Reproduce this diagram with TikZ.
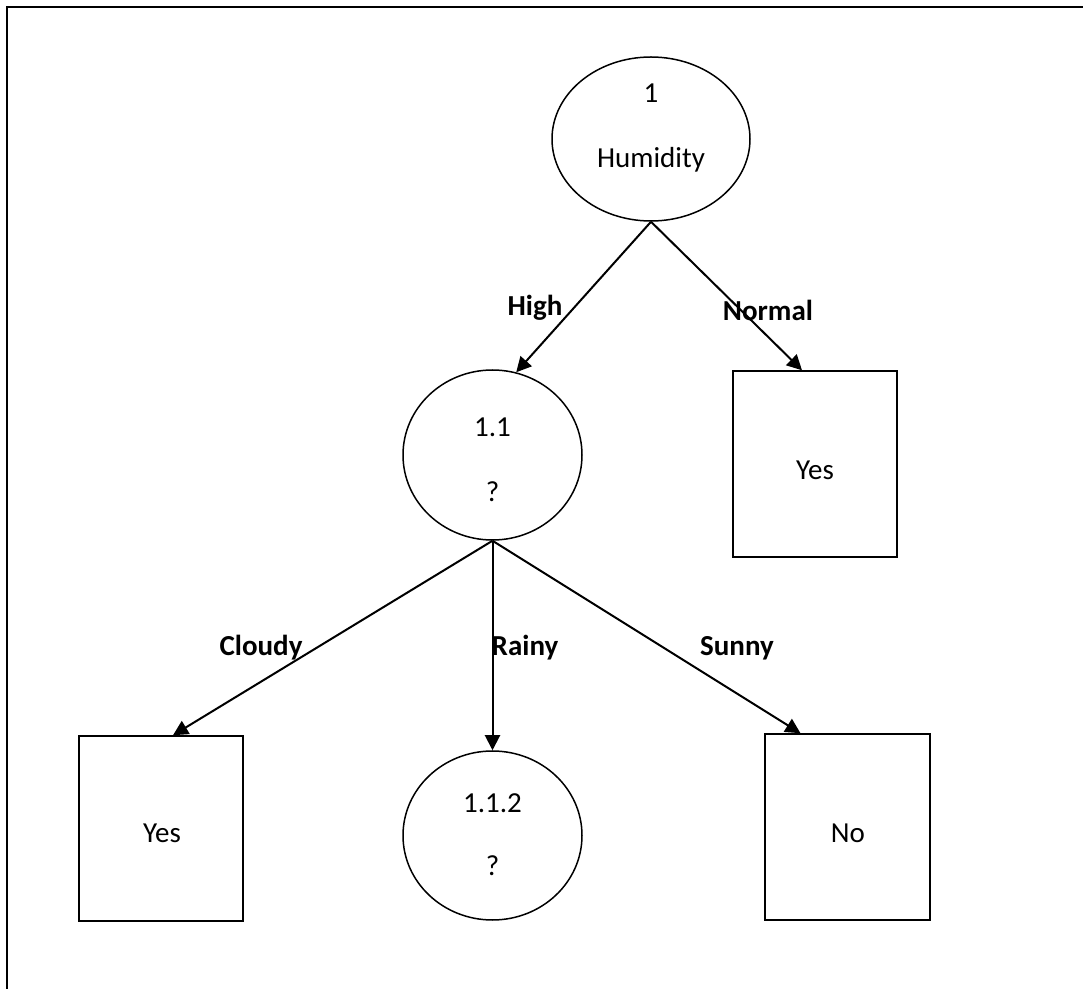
\documentclass[tikz,border=0pt]{standalone}
\usepackage{fontspec}
\setmainfont{Carlito}
\usetikzlibrary{shapes.geometric,arrows.meta,calc}
\begin{document}
\begin{tikzpicture}[x=0.5pt,y=-0.5pt,
  every node/.style={font=\fontsize{14.5}{17}\selectfont},
  decision/.style={draw,ellipse,line width=0.75pt,inner sep=0pt},
  leaf/.style={draw,rectangle,line width=0.75pt,inner sep=0pt},
  txt/.style={inner sep=0pt},
  lab/.style={inner sep=0pt,font=\fontsize{14.5}{17}\selectfont\bfseries},
  edge/.style={line width=1pt,-{Triangle[length=7.5pt,width=7.5pt]}},
  frame/.style={line width=1pt}]
\useasboundingbox (0,0) rectangle (1083,989);
\coordinate (fa) at (7,989);
\coordinate (fb) at (7,7);
\coordinate (fc) at (1083,7);
\draw[frame] (fa) -- (fb) -- (fc);

\node[decision,minimum width=99pt,minimum height=82pt] (root) at (651,139) {};
\node[txt] (roott1) at (651,93) {1};
\node[txt] (roott2) at (651,160) {Humidity};

\node[decision,minimum width=89.5pt,minimum height=85pt] (n11) at (492.5,455) {};
\node[txt] (n11t1) at (492.5,427) {1.1};
\node[txt] (n11t2) at (492.5,492) {?};

\node[leaf,minimum width=82pt,minimum height=93pt] (yesR) at (815,464) {};
\node[txt] (yesRt) at (815,470) {Yes};

\node[leaf,minimum width=82pt,minimum height=92.5pt] (yesL) at (161,828.5) {};
\node[txt] (yesLt) at (162,833) {Yes};

\node[decision,minimum width=89.5pt,minimum height=84.5pt] (n112) at (492.5,835.5) {};
\node[txt] (n112t1) at (492.5,803) {1.1.2};
\node[txt] (n112t2) at (492.5,866) {?};

\node[leaf,minimum width=82.5pt,minimum height=93pt] (no) at (847.5,827) {};
\node[txt] (not) at (848,833) {No};

\draw[edge] (root.south) -- (n11.74);
\draw[edge] (root.south) -- ($(yesR.north)+(-13,0)$);
\draw[edge] (n11.south) -- ($(yesL.north)+(12,0)$);
\draw[edge] (n11.south) -- (n112.north);
\draw[edge] (n11.south) -- ($(no.north)+(-47,0)$);

\node[lab] (lhigh) at (535,308) {High};
\node[lab] (lnormal) at (768,310) {Normal};
\node[lab] (lcloudy) at (261,648) {Cloudy};
\node[lab] (lrainy) at (525,648) {Rainy};
\node[lab] (lsunny) at (737,648) {Sunny};
\end{tikzpicture}
\end{document}
